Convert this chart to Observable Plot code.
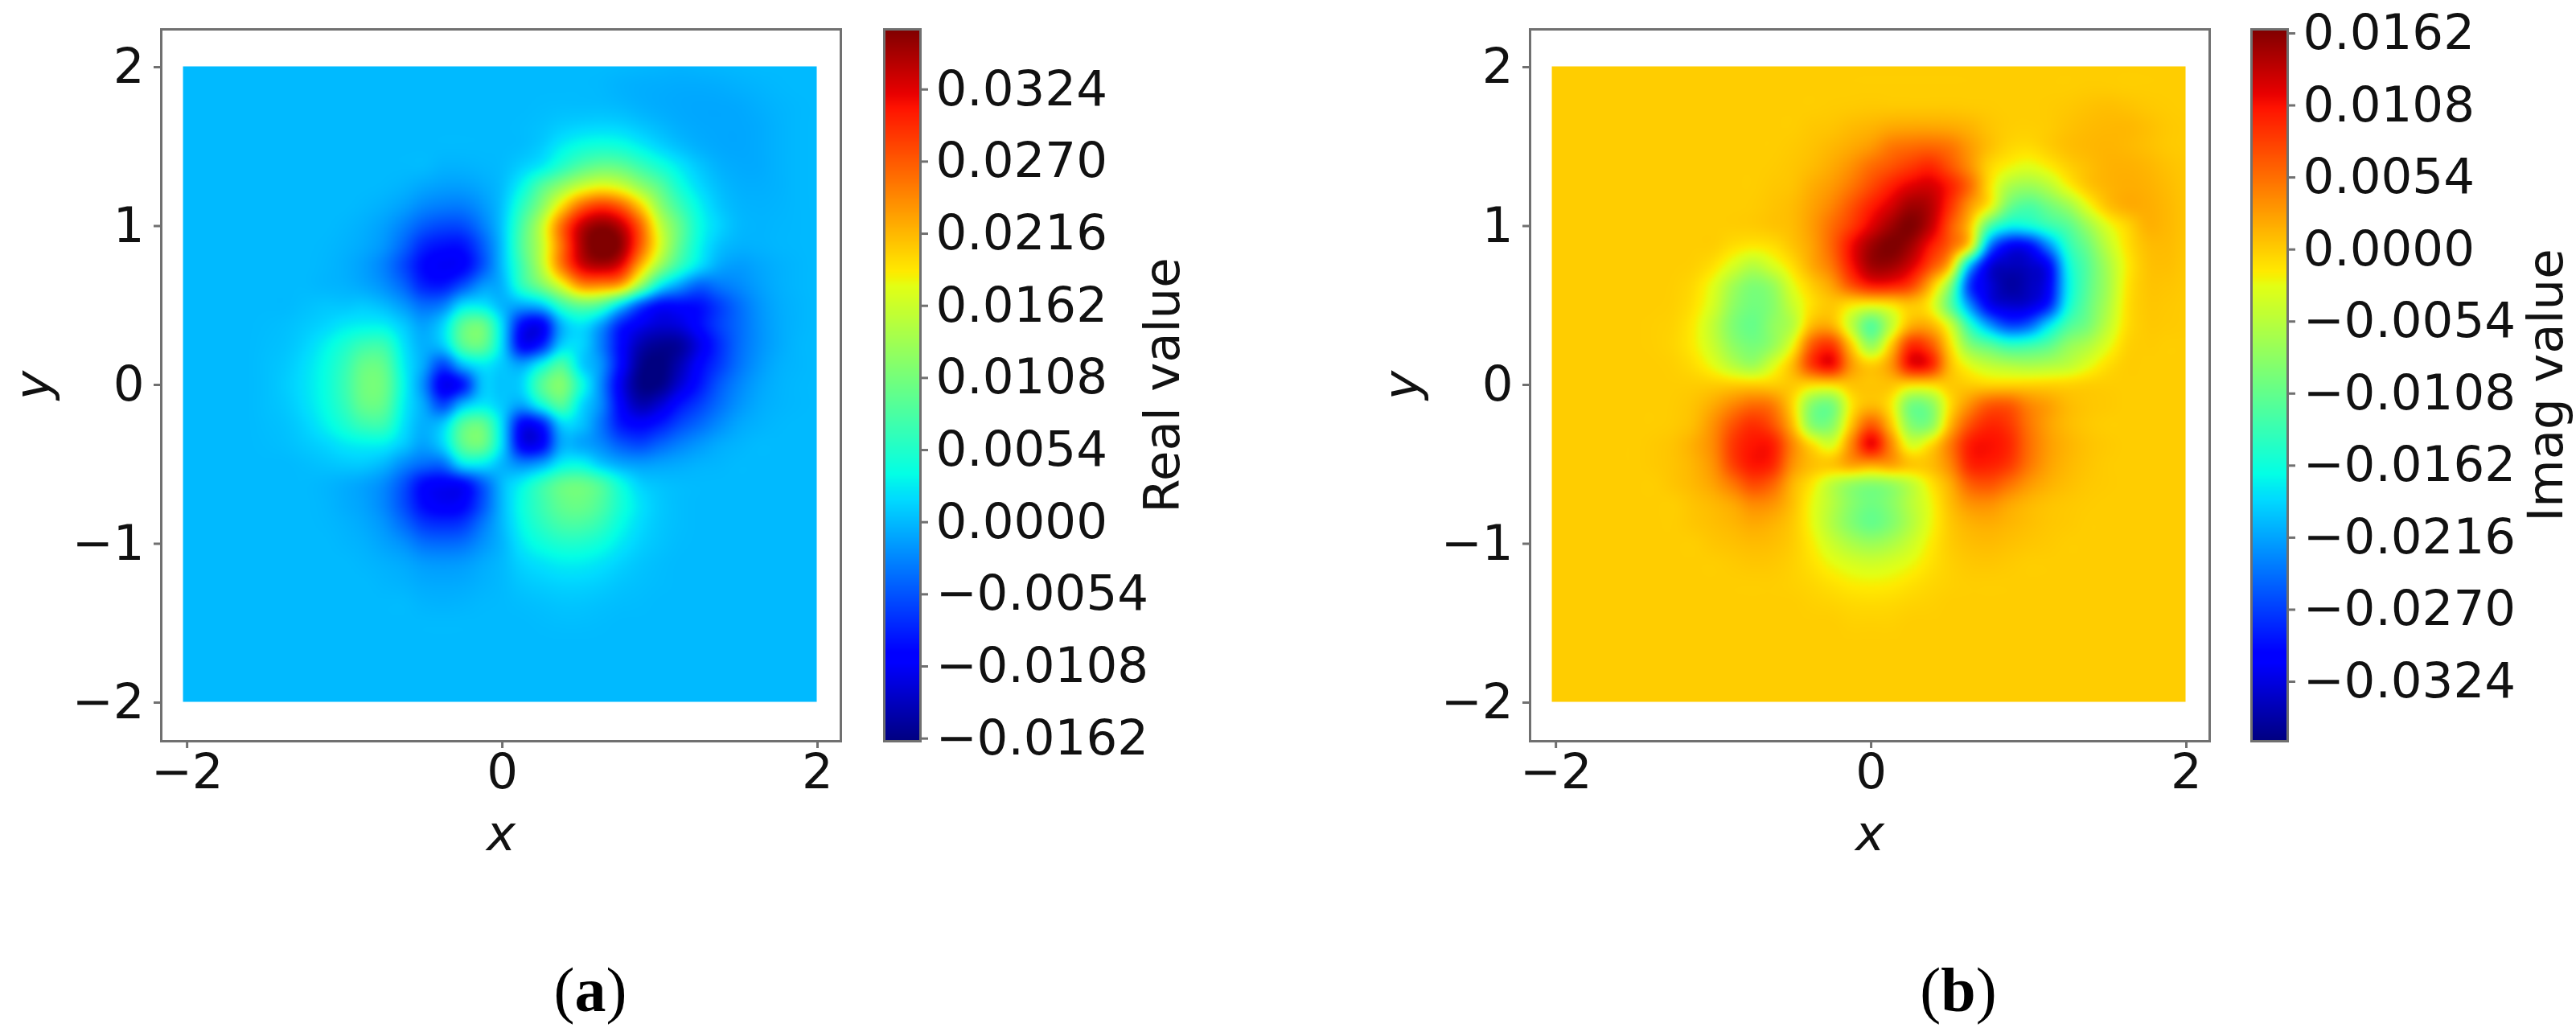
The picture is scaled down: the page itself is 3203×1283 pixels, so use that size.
<!DOCTYPE html>
<html>
<head>
<meta charset="utf-8">
<script src="https://cdn.jsdelivr.net/npm/d3@7"></script>
<script src="https://cdn.jsdelivr.net/npm/@observablehq/plot@0.6"></script>
<style>
html,body{margin:0;padding:0;background:#fff;}
#page{position:relative;width:3203px;height:1283px;overflow:hidden;background:#fff;}
#page>div{position:absolute;}
.cap{font-family:"Liberation Serif",serif;font-size:78px;color:#000;line-height:1;top:1192px;transform:translateX(-50%);}
</style>
</head>
<body>
<div id="page"></div>
<script>
// sample positions of the reading grid (x across, y downward row by row)
const gridX = [-2,-1.875,-1.75,-1.625,-1.5,-1.375,-1.25,-1.125,-1,-.875,-.75,-.625,-.5,-.375,-.25,-.125,0,.125,.25,.375,.5,.625,.75,.875,1,1.125,1.25,1.375,1.5,1.625,1.75,1.875,2];
const gridY = [2,1.875,1.75,1.625,1.5,1.375,1.25,1.125,1,.875,.75,.625,.5,.375,.25,.125,0,-.125,-.25,-.375,-.5,-.625,-.75,-.875,-1,-1.125,-1.25,-1.375,-1.5,-1.625,-1.75,-1.875,-2];

// values, in units of 1e-4
const realRows = [
[0,0,0,0,0,0,0,0,0,0,0,0,0,0,0,0,0,0,0,0,0,0,-1,-2,-3,-4,-3,-2,-1,0,0,0,0],
[0,0,0,0,0,0,0,0,0,0,0,0,0,0,0,0,0,0,0,0,0,-1,-4,-6,-7,-8,-8,-7,-5,-3,-1,0,0],
[0,0,0,0,0,0,0,0,0,0,0,0,0,0,0,0,0,0,1,2,2,2,0,-4,-7,-9,-10,-10,-9,-6,-3,-1,0],
[0,0,0,0,0,0,0,0,0,0,0,0,0,0,0,0,0,1,4,10,14,16,14,7,0,-6,-9,-10,-10,-8,-4,-1,0],
[0,0,0,0,0,0,0,0,0,0,0,0,0,0,0,0,0,2,10,28,42,48,44,30,15,3,-5,-9,-10,-8,-4,-1,0],
[0,0,0,0,0,0,0,0,0,0,0,0,0,-4,-4,-2,1,12,28,58,85,100,95,72,48,25,7,-4,-8,-8,-4,-1,0],
[0,0,0,0,0,0,0,0,0,0,-1,-4,-10,-14,-14,-8,3,35,85,125,160,178,165,128,90,46,18,2,-5,-6,-4,-1,0],
[0,0,0,0,0,0,0,0,0,-2,-6,-14,-26,-32,-32,-18,6,60,120,195,262,290,268,205,125,72,32,8,-2,-4,-3,-1,0],
[0,0,0,0,0,0,0,0,-2,-6,-14,-30,-50,-60,-58,-32,8,80,155,258,335,362,340,265,160,96,40,14,0,-3,-2,-1,0],
[0,0,0,0,0,0,0,-1,-4,-9,-20,-45,-78,-90,-88,-50,5,85,155,255,345,378,360,270,170,92,35,5,-4,-4,-2,-1,0],
[0,0,0,0,0,0,0,-2,-6,-14,-30,-60,-95,-108,-100,-55,3,75,150,250,325,345,320,220,130,65,20,-8,-15,-10,-5,-2,0],
[0,0,0,0,0,0,0,-2,-4,-10,-22,-45,-80,-85,-55,-18,-2,60,110,170,235,240,220,125,30,-15,-45,-35,-25,-14,-6,-2,0],
[0,0,0,0,0,0,3,6,6,8,0,-18,-40,-30,20,25,-2,-10,5,65,95,80,15,-55,-95,-95,-90,-65,-40,-20,-8,-3,0],
[0,0,0,0,1,3,8,15,25,30,28,8,-12,15,90,100,15,-95,-105,-5,22,-15,-80,-110,-125,-120,-95,-65,-42,-22,-9,-3,0],
[0,0,0,0,2,5,14,30,50,70,68,22,-5,10,85,95,15,-100,-80,10,15,-30,-95,-140,-155,-150,-115,-75,-42,-22,-9,-2,0],
[0,0,0,0,3,8,20,38,65,98,92,30,-10,-60,0,25,8,-10,35,80,15,-20,-95,-155,-165,-140,-100,-68,-38,-18,-6,-2,0],
[0,0,0,0,3,10,22,40,70,105,100,35,-25,-110,-85,5,5,15,85,115,45,-25,-110,-160,-160,-125,-88,-52,-28,-12,-4,-1,0],
[0,0,0,0,3,8,20,38,65,98,92,30,-10,-60,0,25,8,-10,40,85,20,-25,-100,-140,-125,-90,-65,-40,-20,-8,-3,-1,0],
[0,0,0,0,2,5,14,30,50,70,68,22,-5,10,85,95,15,-100,-85,10,5,-35,-85,-100,-85,-60,-42,-24,-10,-4,-1,0,0],
[0,0,0,0,1,3,8,15,25,30,28,8,-12,15,90,100,15,-105,-100,-10,-10,-25,-50,-60,-45,-30,-18,-8,-3,0,0,0,0],
[0,0,0,0,0,0,2,5,8,8,-2,-25,-42,-40,20,25,-2,-25,-10,30,35,10,-8,-15,-12,-8,-4,-2,0,0,0,0,0],
[0,0,0,0,0,0,0,-2,-6,-12,-25,-55,-95,-105,-98,-50,0,30,65,95,100,80,40,12,4,1,0,0,0,0,0,0,0],
[0,0,0,0,0,0,0,-2,-7,-13,-28,-58,-95,-108,-100,-55,0,40,70,95,100,82,48,22,8,2,0,0,0,0,0,0,0],
[0,0,0,0,0,0,0,-1,-4,-9,-20,-42,-68,-75,-68,-35,0,35,60,78,80,65,38,18,7,2,0,0,0,0,0,0,0],
[0,0,0,0,0,0,0,0,-2,-5,-12,-22,-38,-42,-38,-20,-2,25,42,52,52,42,25,12,5,1,0,0,0,0,0,0,0],
[0,0,0,0,0,0,0,0,0,-2,-5,-9,-16,-18,-16,-8,0,14,22,28,28,22,13,6,2,0,0,0,0,0,0,0,0],
[0,0,0,0,0,0,0,0,0,0,-2,-4,-8,-9,-8,-4,0,7,11,14,14,11,6,3,1,0,0,0,0,0,0,0,0],
[0,0,0,0,0,0,0,0,0,0,0,0,-3,-4,-3,-1,0,2,4,6,6,4,2,1,0,0,0,0,0,0,0,0,0],
[0,0,0,0,0,0,0,0,0,0,0,0,0,0,0,0,0,0,1,2,2,1,0,0,0,0,0,0,0,0,0,0,0],
[0,0,0,0,0,0,0,0,0,0,0,0,0,0,0,0,0,0,0,0,0,0,0,0,0,0,0,0,0,0,0,0,0],
[0,0,0,0,0,0,0,0,0,0,0,0,0,0,0,0,0,0,0,0,0,0,0,0,0,0,0,0,0,0,0,0,0],
[0,0,0,0,0,0,0,0,0,0,0,0,0,0,0,0,0,0,0,0,0,0,0,0,0,0,0,0,0,0,0,0,0],
[0,0,0,0,0,0,0,0,0,0,0,0,0,0,0,0,0,0,0,0,0,0,0,0,0,0,0,0,0,0,0,0,0]
];

// values, in units of 1e-4
const imagRows = [
[0,0,0,0,0,0,0,0,0,0,0,0,0,0,0,0,0,0,0,0,0,0,0,0,0,0,0,0,0,0,0,0,0],
[0,0,0,0,0,0,0,0,0,0,0,0,0,0,0,0,0,0,0,0,0,0,0,0,0,0,0,1,1,0,0,0,0],
[0,0,0,0,0,0,0,0,0,0,0,0,0,0,1,2,3,3,3,3,3,2,1,0,0,1,3,6,8,6,3,1,0],
[0,0,0,0,0,0,0,0,0,0,0,0,0,3,5,10,14,20,22,22,20,14,5,0,-1,1,6,10,12,12,8,3,1],
[0,0,0,0,0,0,0,0,0,0,0,0,2,6,12,20,30,48,55,58,50,28,8,-5,-8,0,8,12,14,12,8,3,1],
[0,0,0,0,0,0,0,0,0,0,0,1,4,10,20,35,55,70,85,95,70,35,-4,-22,-30,-18,-2,8,15,16,13,7,3],
[0,0,0,0,0,0,0,0,0,0,0,3,6,18,30,50,75,100,120,125,100,55,-10,-60,-72,-55,-22,3,14,18,16,10,4],
[0,0,0,0,0,0,0,0,0,0,1,5,10,24,42,70,100,125,150,140,90,30,-21,-100,-122,-100,-72,-28,5,18,18,12,5],
[0,0,0,0,0,0,0,0,0,0,1,5,10,28,55,85,120,150,165,135,70,5,-120,-170,-165,-140,-115,-72,-30,-5,15,12,5],
[0,0,0,0,0,0,0,0,-1,-10,-15,-10,5,25,60,110,150,166,150,105,60,-15,-230,-305,-300,-230,-145,-100,-50,-12,8,10,4],
[0,0,0,0,0,0,0,-2,-12,-35,-55,-35,-10,20,50,105,148,150,125,75,5,-200,-320,-340,-335,-305,-170,-115,-65,-18,5,8,3],
[0,0,0,0,0,0,-1,-8,-30,-68,-90,-75,-30,0,25,70,100,100,80,15,-85,-270,-325,-352,-340,-310,-178,-115,-68,-15,4,5,2],
[0,0,0,0,0,0,-2,-12,-38,-80,-98,-85,-45,-10,3,-15,-25,-15,3,-20,-110,-225,-310,-330,-325,-285,-165,-108,-62,-12,3,3,1],
[0,0,0,0,0,-1,-4,-18,-50,-90,-105,-80,-55,10,15,-50,-115,-50,15,15,-40,-145,-220,-265,-250,-185,-125,-95,-50,-10,2,2,1],
[0,0,0,0,0,-1,-5,-18,-45,-80,-95,-75,-25,65,85,0,-75,0,90,70,-8,-85,-115,-140,-135,-115,-80,-60,-30,-4,1,0,0],
[0,0,0,0,0,0,-2,-10,-28,-55,-70,-35,10,85,110,30,0,30,110,100,10,-30,-50,-60,-65,-60,-50,-30,-10,0,0,0,0],
[0,0,0,0,0,0,0,0,0,0,0,0,2,-8,-8,5,5,5,-8,-8,2,0,-3,-3,-3,-3,-3,-1,0,0,0,0,0],
[0,0,0,0,0,0,1,6,20,40,55,45,-5,-85,-95,-15,10,-15,-95,-85,-10,35,65,65,40,25,10,4,2,0,0,0,0],
[0,0,0,0,0,0,2,10,35,70,90,70,10,-85,-85,5,65,5,-85,-85,10,70,95,85,50,25,10,3,0,0,0,0,0],
[0,0,0,0,0,2,6,18,40,85,105,100,40,-10,-35,40,115,40,-35,-10,45,100,108,95,55,28,14,6,2,0,0,0,0],
[0,0,0,0,0,2,6,15,35,80,105,95,35,8,5,25,25,25,5,8,40,95,100,85,50,25,12,5,1,0,0,0,0],
[0,0,0,0,0,0,5,12,25,50,75,60,15,-15,-50,-75,-85,-75,-50,-15,18,62,70,52,30,16,8,3,1,0,0,0,0],
[0,0,0,0,0,0,0,6,12,22,38,32,8,-25,-55,-85,-100,-85,-55,-25,8,32,35,22,12,6,3,1,0,0,0,0,0],
[0,0,0,0,0,0,0,4,8,13,20,15,2,-25,-58,-88,-105,-88,-58,-25,2,15,18,13,8,4,2,0,0,0,0,0,0],
[0,0,0,0,0,0,0,0,4,7,10,8,0,-18,-42,-62,-72,-62,-42,-18,0,8,10,7,4,2,0,0,0,0,0,0,0],
[0,0,0,0,0,0,0,0,0,2,4,3,-2,-12,-25,-35,-40,-35,-25,-12,-2,3,4,2,0,0,0,0,0,0,0,0,0],
[0,0,0,0,0,0,0,0,0,0,0,0,-2,-6,-12,-18,-20,-18,-12,-6,-2,0,0,0,0,0,0,0,0,0,0,0,0],
[0,0,0,0,0,0,0,0,0,0,0,0,0,-2,-4,-7,-8,-7,-4,-2,0,0,0,0,0,0,0,0,0,0,0,0,0],
[0,0,0,0,0,0,0,0,0,0,0,0,0,0,0,-2,-2,-2,0,0,0,0,0,0,0,0,0,0,0,0,0,0,0],
[0,0,0,0,0,0,0,0,0,0,0,0,0,0,0,0,0,0,0,0,0,0,0,0,0,0,0,0,0,0,0,0,0],
[0,0,0,0,0,0,0,0,0,0,0,0,0,0,0,0,0,0,0,0,0,0,0,0,0,0,0,0,0,0,0,0,0],
[0,0,0,0,0,0,0,0,0,0,0,0,0,0,0,0,0,0,0,0,0,0,0,0,0,0,0,0,0,0,0,0,0],
[0,0,0,0,0,0,0,0,0,0,0,0,0,0,0,0,0,0,0,0,0,0,0,0,0,0,0,0,0,0,0,0,0]
];

const axisTicks = { x: [-2, 0, 2], y: [-2, -1, 0, 1, 2] };
const realTicks = [-0.0162,-0.0108,-0.0054,0,0.0054,0.0108,0.0162,0.0216,0.027,0.0324];
const imagTicks = [-0.0324,-0.027,-0.0216,-0.0162,-0.0108,-0.0054,0,0.0054,0.0108,0.0162];
const realDomain = [-0.0164, 0.0369];
const imagDomain = [-0.03686, 0.0165];

// matplotlib "jet"
const jetStops = [0,.11,.125,.34,.35,.375,.64,.65,.66,.89,.91,1];
const jetColors = ["#000080","#0000ff","#0000ff","#00dbff","#00e4f8","#02ffe6","#e3ff14","#f1f406","#ffea00","#ff1300","#e80000","#800000"];

const FONT = "DejaVu Sans";
const FS = 61;
const GREY = "#707070";

function colorScale(dom) {
  return {
    type: "linear",
    domain: jetStops.map(t => dom[0] + t * (dom[1] - dom[0])),
    range: jetColors,
    clamp: true
  };
}

function table(rows) {
  const out = [];
  rows.forEach((r, j) => r.forEach((v, i) => out.push({ x: gridX[i], y: gridY[j], v: v * 1e-4 })));
  return out;
}

// raster smoothing between the regular reading grid's samples (Catmull-Rom)
function cubicSmooth(index, w, h, X, Y, V) {
  const nx = gridX.length, ny = gridY.length;
  const x0 = X[index[0]], dx = X[index[1]] - x0;
  const y0 = Y[index[0]], dy = Y[index[nx]] - y0;
  const at = (i, j) => V[index[Math.max(0, Math.min(ny - 1, j)) * nx + Math.max(0, Math.min(nx - 1, i))]];
  const cr = (a, b, c, d, t) => b + 0.5 * t * (c - a + t * (2 * a - 5 * b + 4 * c - d + t * (3 * (b - c) + d - a)));
  const out = new Float64Array(w * h);
  for (let py = 0; py < h; ++py) {
    const v = Math.max(0, Math.min(ny - 1, (py + 0.5 - y0) / dy));
    const j = Math.min(ny - 2, Math.floor(v)), tv = v - j;
    for (let px = 0; px < w; ++px) {
      const u = Math.max(0, Math.min(nx - 1, (px + 0.5 - x0) / dx));
      const i = Math.min(nx - 2, Math.floor(u)), tu = u - i;
      const c = [-1, 0, 1, 2].map(o => cr(at(i - 1, j + o), at(i, j + o), at(i + 1, j + o), at(i + 2, j + o), tu));
      out[py * w + px] = cr(c[0], c[1], c[2], c[3], tv);
    }
  }
  return out;
}

function place(node, left, top) {
  const d = document.createElement("div");
  d.style.left = left + "px";
  d.style.top = top + "px";
  d.style.width = node.getAttribute("width") + "px";
  d.appendChild(node);
  document.getElementById("page").appendChild(d);
}

function heat(rows, dom, xd, bounds) {
  return Plot.plot({
    width: 1090, height: 1100,
    marginLeft: 200, marginRight: 45, marginTop: 36, marginBottom: 179,
    style: { background: "transparent", fontFamily: FONT, overflow: "visible" },
    x: { domain: xd, label: null },
    y: { domain: [-2.243, 2.238], label: null },
    color: colorScale(dom),
    marks: [
      Plot.raster(table(rows), {
        x: "x", y: "y", fill: "v",
        x1: bounds[0], x2: bounds[1], y1: -1.995, y2: 2.005,
        interpolate: cubicSmooth, pixelSize: 1, blur: 2
      }),
      Plot.frame({ stroke: GREY, strokeWidth: 3 }),
      Plot.axisX({ ticks: axisTicks.x, tickSize: 9, tickPadding: 6, fontSize: FS, stroke: GREY, strokeWidth: 3, fill: "#111", label: null, tickFormat: d3.format("d") }),
      Plot.axisY({ ticks: axisTicks.y, tickSize: 9, tickPadding: 12, fontSize: FS, stroke: GREY, strokeWidth: 3, fill: "#111", label: null, tickFormat: d3.format("d") }),
      Plot.axisX([], { label: "x", labelArrow: "none", labelAnchor: "center", labelOffset: 135, fontSize: FS, fontStyle: "italic", fill: "#111", tickSize: 0 }),
      Plot.axisY([], { label: "y", labelArrow: "none", labelAnchor: "center", labelOffset: 183, fontSize: FS, fontStyle: "italic", fill: "#111", tickSize: 0 })
    ]
  });
}

function colorbar(dom, ticks, label, offset) {
  return Plot.plot({
    width: 420, height: 1100,
    marginLeft: 9, marginRight: 420 - 9 - 45, marginTop: 36, marginBottom: 179,
    style: { background: "transparent", fontFamily: FONT, overflow: "visible" },
    x: { domain: [0, 1], axis: null },
    y: { domain: dom, label: null, axis: null },
    color: colorScale(dom),
    marks: [
      Plot.raster({ fill: (x, y) => y, x1: 0, x2: 1, y1: dom[0], y2: dom[1], pixelSize: 1 }),
      Plot.frame({ stroke: GREY, strokeWidth: 3 }),
      Plot.axisY({ anchor: "right", ticks, tickSize: 9, tickPadding: 10, fontSize: FS, stroke: GREY, strokeWidth: 3, fill: "#111", label: null, tickFormat: d3.format(".4f") }),
      Plot.axisY([], { anchor: "right", label, labelArrow: "none", labelAnchor: "center", labelOffset: offset, dy: 4, fontSize: FS, fill: "#111", tickSize: 0 })
    ]
  });
}

place(heat(realRows, realDomain, [-2.164, 2.148], [-2.026, 1.995]), 0, 0);
place(colorbar(realDomain, realTicks, "Real value", 321), 1090, 0);
place(heat(imagRows, imagDomain, [-2.164, 2.148], [-2.026, 1.995]), 1702, 0);
place(colorbar(imagDomain, imagTicks, "Imag value", 341), 2790, 0);

for (const [letter, cx] of [["a", 734], ["b", 2435]]) {
  const c = document.createElement("div");
  c.className = "cap";
  c.style.left = cx + "px";
  c.innerHTML = "(<b>" + letter + "</b>)";
  document.getElementById("page").appendChild(c);
}
</script>
</body>
</html>
